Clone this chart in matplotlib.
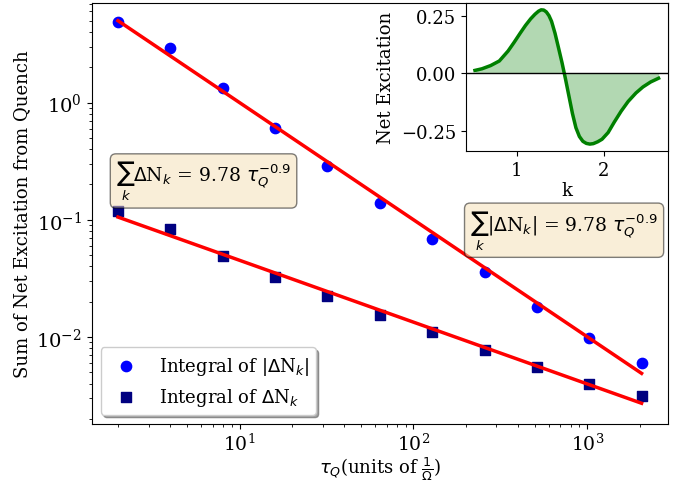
import numpy as np
import matplotlib
matplotlib.use("Agg")
import matplotlib.pyplot as plt

plt.rcParams['font.family'] = 'serif'
plt.rcParams['font.size'] = 13

# quench times (units of 1/Omega)
tau_q = [2, 4, 8, 16, 32, 64, 128, 256, 512, 1024, 2048]
# integral of |dN_k|
abs_sum = [4.83, 2.93, 1.32, 0.611, 0.29, 0.14, 0.069, 0.0355, 0.018, 0.0097, 0.006]
# integral of dN_k
net_sum = [0.119, 0.0826, 0.0492, 0.0326, 0.0224, 0.0155, 0.0111, 0.0077, 0.0055, 0.0040, 0.0031]

# power-law fits (amplitude, exponent) as drawn
abs_fit = (10.0, -1.0)
net_fit = (0.152, -0.528)

# inset: net excitation vs k
k_vals = [0.52, 0.60, 0.70, 0.80, 0.90, 0.97, 1.04, 1.10, 1.16, 1.21, 1.25, 1.28, 1.31,
          1.34, 1.37, 1.40, 1.44, 1.48, 1.52, 1.56, 1.60, 1.64, 1.68, 1.72, 1.76, 1.80,
          1.84, 1.88, 1.93, 1.98, 2.05, 2.12, 2.20, 2.28, 2.37, 2.45, 2.54, 2.63]
net_exc = [0.012, 0.019, 0.033, 0.053, 0.096, 0.134, 0.174, 0.207, 0.236, 0.256, 0.269, 0.275, 0.274,
           0.266, 0.250, 0.225, 0.173, 0.110, 0.046, -0.025, -0.100, -0.175, -0.237, -0.275, -0.296, -0.305,
           -0.308, -0.306, -0.298, -0.287, -0.258, -0.213, -0.165, -0.123, -0.086, -0.060, -0.038, -0.022]

fig = plt.figure(figsize=(6.8, 4.85), dpi=100)
ax = fig.add_axes([0.135, 0.124, 0.847, 0.868])

tq = np.array(tau_q, dtype=float)
ax.scatter(tq, abs_sum, s=55, color='blue', marker='o', label=r"Integral of $|\Delta$N$_k|$")
ax.scatter(tq, net_sum, s=55, color='navy', marker='s', label=r"Integral of $\Delta$N$_k$")
ax.plot(tq, abs_fit[0] * tq ** abs_fit[1], color='red', lw=2.5)
ax.plot(tq, net_fit[0] * tq ** net_fit[1], color='red', lw=2.5)
ax.set_xscale('log')
ax.set_yscale('log')
ax.set_ylim(0.00181, 7.1)
ax.tick_params(axis='y', which='major', labelsize=14)
ax.tick_params(axis='x', which='major', labelsize=13.5, pad=3)
ax.set_xlabel(r"$\tau_Q$(units of $\frac{1}{\Omega}$)", labelpad=0)
ax.set_ylabel("Sum of Net Excitation from Quench")
ax.legend(loc='lower left', shadow=True, fontsize=13)

props = dict(boxstyle='round', facecolor='wheat', alpha=0.5)
ax.text(0.194, 0.577, r"$\sum_k\Delta$N$_k$ = 9.78 $\tau_Q^{-0.9}$", transform=ax.transAxes,
        fontsize=13.5, ha='center', va='center', bbox=props)
ax.text(0.82, 0.46, r"$\sum_k|\Delta$N$_k|$ = 9.78 $\tau_Q^{-0.9}$", transform=ax.transAxes,
        fontsize=13.5, ha='center', va='center', bbox=props)

# inset
ins = fig.add_axes([0.685, 0.687, 0.297, 0.3045])
ins.plot(k_vals, net_exc, color='green', lw=2.5)
ins.fill_between(k_vals, net_exc, 0, color='green', alpha=0.3, lw=0)
ins.axhline(0, color='black', lw=1)
ins.set_yticks([-0.25, 0.0, 0.25])
ins.set_xlabel("k", labelpad=2)
ins.set_ylabel("Net Excitation")

fig.savefig("out.png", dpi=100)
